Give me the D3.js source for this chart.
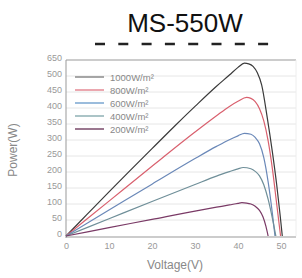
<!DOCTYPE html>
<html><head><meta charset="utf-8">
<script src="https://cdn.jsdelivr.net/npm/d3@7"></script>
<style>html,body{margin:0;padding:0;background:#fff;}svg{display:block;}</style>
</head><body>
<script>
const title = "MS-550W";
const yTicks = [0,50,100,150,200,250,300,350,400,450,500,550];
const yTickLabels = ["0","50","100","150","200","250","300","350","400","450","500","650"];
const xTicks = [0,10,20,30,40,50];
const seriesNames = ["1000W/m²","800W/m²","600W/m²","400W/m²","200W/m²"];

const v1000 = [0,5,10,15,20,25,30,35,38,40,41.5,42.5,43.5,44.5,45.5,46.8,48,49,49.8,50.3];
const p1000 = [0,69,138,206,273,340,405,468,503,527,540,538,530,510,472,370,262,160,65,0];
const v800 = [0,10,20,30,35,38,40,42,43,44,45,46,47,48,49,49.9];
const p800 = [0,109,218,325,376,405,421,433,430,420,398,360,298,210,100,0];
const v600 = [0,10,20,30,35,38,40,41.5,43,44,45,46,47,48,48.6];
const p600 = [0,81,162,242,280,301,313,321,318,308,288,245,170,70,0];
const v400 = [0,10,20,30,35,38,40,41.2,43,44,45,46,47,48,48.8];
const p400 = [0,54,108,161,187,201,210,214,210,202,188,160,115,55,0];
const v200 = [0,10,20,30,35,38,40,40.9,42,43,44,45,45.8,46.5,47];
const p200 = [0,26,52,78,90,97,102,104,103,100,93,80,60,30,0];

const colors = ["#3a3a3a","#d9606e","#6a88b8","#6f8f99","#7a3a66"];
const legendColors = ["#8a8a8a","#e58a95","#7aa6d0","#8fb0b5","#7a4a6a"];

const W = 302, H = 278;
const svg = d3.select("body").append("svg").attr("width",W).attr("height",H);
const x = d3.scaleLinear().domain([0,50]).range([66,281]);
const y = d3.scaleLinear().domain([0,550]).range([236,60]);
const xMax = 53.5;

// title
svg.append("text").attr("x",185).attr("y",32).attr("text-anchor","middle")
  .attr("font-family","Liberation Sans, Arial, sans-serif").attr("font-size",26).attr("fill","#111").text(title);
svg.append("line").attr("x1",95).attr("x2",281).attr("y1",44).attr("y2",44)
  .attr("stroke","#222").attr("stroke-width",2.5).attr("stroke-dasharray","10,13.3");

// grid
svg.append("g").selectAll("line").data(yTicks.slice(1,-1)).join("line")
  .attr("x1",x(0)).attr("x2",x(xMax)).attr("y1",d=>y(d)).attr("y2",d=>y(d))
  .attr("stroke","#e6e6e6").attr("stroke-width",1);
// top border
svg.append("line").attr("x1",x(0)).attr("x2",x(xMax)).attr("y1",y(550)).attr("y2",y(550))
  .attr("stroke","#999").attr("stroke-width",1.2);
svg.append("line").attr("x1",x(xMax)).attr("x2",x(xMax)).attr("y1",y(550)).attr("y2",y(0))
  .attr("stroke","#eee").attr("stroke-width",1);

// axes
const yAxis = d3.axisLeft(y).tickValues(yTicks).tickSize(0).tickPadding(4)
  .tickFormat((d,i)=>yTickLabels[i]);
const gy = svg.append("g").attr("transform",`translate(${x(0)},0)`).call(yAxis);
gy.select(".domain").attr("stroke","#999").attr("d",`M0,${y(550)}V${y(0)+2}`);
gy.selectAll("text").attr("font-family","Liberation Sans, Arial, sans-serif").attr("font-size",9).attr("fill","#999").attr("dy","0.1em");

const xAxis = d3.axisBottom(x).tickValues(xTicks).tickSize(0).tickPadding(6);
const gx = svg.append("g").attr("transform",`translate(0,${y(0)+1})`).call(xAxis);
gx.select(".domain").attr("stroke","#999").attr("d",`M${x(0)},0H${x(xMax)}`);
gx.selectAll("text").attr("font-family","Liberation Sans, Arial, sans-serif").attr("font-size",9).attr("fill","#999");

// axis titles
svg.append("text").attr("transform","translate(17,150) rotate(-90)").attr("text-anchor","middle")
  .attr("font-family","Liberation Sans, Arial, sans-serif").attr("font-size",12).attr("fill","#888").text("Power(W)");
svg.append("text").attr("x",175).attr("y",269).attr("text-anchor","middle")
  .attr("font-family","Liberation Sans, Arial, sans-serif").attr("font-size",12).attr("fill","#888").text("Voltage(V)");

// curves
const vs = [v1000,v800,v600,v400,v200];
const ps = [p1000,p800,p600,p400,p200];
const line = d3.line().x(d=>x(d[0])).y(d=>y(d[1])).curve(d3.curveMonotoneX);
vs.forEach((v,i)=>{
  const pts = v.map((vv,j)=>[vv,ps[i][j]]);
  svg.append("path").attr("d",line(pts)).attr("fill","none")
    .attr("stroke",colors[i]).attr("stroke-width",1.2);
});

// legend
const lg = svg.append("g");
seriesNames.forEach((n,i)=>{
  const yy = 77 + i*13;
  lg.append("line").attr("x1",75).attr("x2",104).attr("y1",yy).attr("y2",yy)
    .attr("stroke",legendColors[i]).attr("stroke-width",1.5);
  lg.append("text").attr("x",110).attr("y",yy+3.5)
    .attr("font-family","Liberation Sans, Arial, sans-serif").attr("font-size",9.5).attr("fill","#888").text(n);
});
</script>
</body></html>
